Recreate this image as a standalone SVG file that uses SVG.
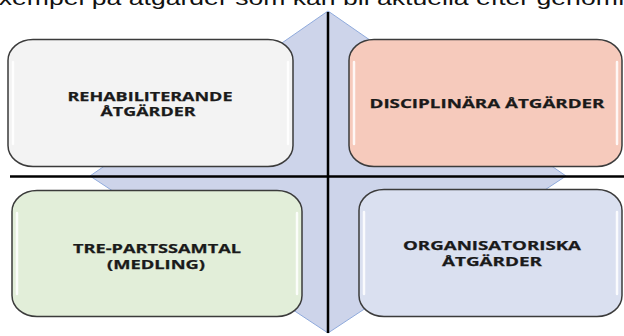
<svg xmlns="http://www.w3.org/2000/svg" width="624" height="336" viewBox="0 0 624 336">
  <style>
    .box { stroke: #3b3b3b; stroke-width: 1.5; }
    .hl { stroke: #ffffff; stroke-width: 2.5; stroke-linecap: round; opacity: 0.85; fill: none; }
    .lbl { font-family: "Open Sans", "DejaVu Sans", sans-serif; font-weight: bold; font-size: 12.5px; fill: #1a1a1a; text-anchor: middle; stroke: #1a1a1a; stroke-width: 0.25; }
    .top { font-family: "Liberation Sans", Arial, sans-serif; font-size: 20px; fill: #111111; }
    .axis { stroke: #000000; stroke-width: 2.5; fill: none; }
  </style>
  <rect width="624" height="336" fill="#ffffff"/>
  <text class="top" transform="translate(-19 4.5) scale(1.33 1)" x="0" y="0">Exempel på åtgärder som kan bli aktuella efter genomförd</text>

  <g id="diamond">
    <polygon points="328,11 566,176 328,333 90,176" fill="#CDD4EA" stroke="#8FAADC" stroke-width="1"/>
  </g>

  <g id="connectors">
    <line class="axis" x1="328" y1="12" x2="328" y2="333"/>
    <line class="axis" x1="10" y1="176.5" x2="624" y2="176.5"/>
  </g>

  <g id="node-rehab">
    <rect class="box" x="8" y="39.5" width="285" height="127" rx="25" ry="21" fill="#F3F3F3"/>
    <line class="hl" x1="13" y1="62" x2="13" y2="144"/>
    <line class="hl" x1="288" y1="62" x2="288" y2="144"/>
    <text class="lbl" x="150" y="100.5" textLength="165" lengthAdjust="spacingAndGlyphs">REHABILITERANDE</text>
    <text class="lbl" x="148" y="116" textLength="95" lengthAdjust="spacingAndGlyphs">ÅTGÄRDER</text>
  </g>

  <g id="node-disc">
    <rect class="box" x="349" y="39.5" width="273" height="127" rx="25" ry="21" fill="#F6CABC"/>
    <line class="hl" x1="354" y1="62" x2="354" y2="144"/>
    <line class="hl" x1="617" y1="62" x2="617" y2="144"/>
    <text class="lbl" x="487" y="108" textLength="235" lengthAdjust="spacingAndGlyphs">DISCIPLINÄRA ÅTGÄRDER</text>
  </g>

  <g id="node-tre">
    <rect class="box" x="12" y="190.5" width="290" height="126" rx="25" ry="21" fill="#E2EED9"/>
    <line class="hl" x1="17" y1="213" x2="17" y2="294"/>
    <line class="hl" x1="297" y1="213" x2="297" y2="294"/>
    <text class="lbl" x="157" y="253" textLength="168" lengthAdjust="spacingAndGlyphs">TRE-PARTSSAMTAL</text>
    <text class="lbl" x="156" y="269" textLength="98" lengthAdjust="spacingAndGlyphs">(MEDLING)</text>
  </g>

  <g id="node-org">
    <rect class="box" x="359" y="189.5" width="263" height="127" rx="25" ry="21" fill="#DAE0F0"/>
    <line class="hl" x1="364" y1="212" x2="364" y2="294"/>
    <line class="hl" x1="617" y1="212" x2="617" y2="294"/>
    <text class="lbl" x="492" y="250" textLength="178" lengthAdjust="spacingAndGlyphs">ORGANISATORISKA</text>
    <text class="lbl" x="492" y="265.5" textLength="100" lengthAdjust="spacingAndGlyphs">ÅTGÄRDER</text>
  </g>
</svg>
